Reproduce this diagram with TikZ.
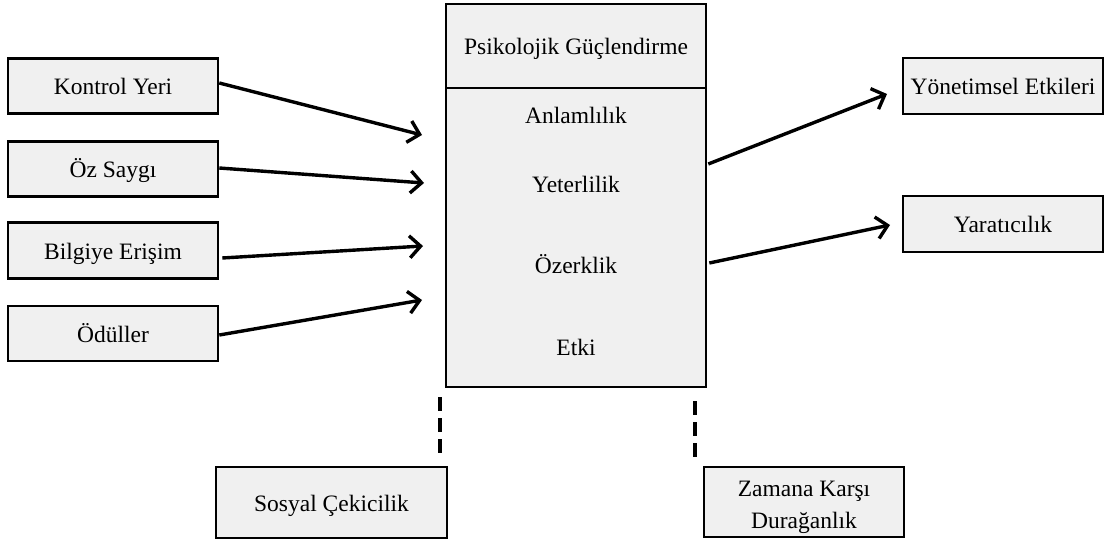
\documentclass[tikz,border=0pt]{standalone}
\usepackage{fontspec}
\setmainfont{Liberation Serif}
\usetikzlibrary{arrows.meta,calc}
\definecolor{boxfill}{RGB}{240,240,240}
\begin{document}
\begin{tikzpicture}[x=1pt,y=-1pt,
  txt/.style={font=\fontsize{23.5}{32}\selectfont},
  box/.style={draw=black, line width=2.6pt, fill=boxfill, inner sep=0pt, txt,
              text height=20pt, text depth=3pt},
  link/.style={line width=3.4pt, -{Straight Barb[length=11pt,width=22pt,line width=3.4pt]}},
  tie/.style={line width=4.5pt, dash pattern=on 14pt off 7pt}
]
\useasboundingbox (0,0) rectangle (1109,543);

% antecedents
\node[box, minimum width=210, minimum height=55] (ky) at (113,86)    {Kontrol Yeri};
\node[box, minimum width=210, minimum height=55] (oz) at (113,169)   {Öz Saygı};
\node[box, minimum width=210, minimum height=56] (be) at (113,250.5) {Bilgiye Erişim};
\node[box, minimum width=210, minimum height=55] (od) at (113,333.5) {Ödüller};

% psychological empowerment block
\node[box, minimum width=260, minimum height=299] (pgbody) at (576,237.5) {};
\node[box, minimum width=260, minimum height=84]  (pgtop)  at (576,46) {Psikolojik Güçlendirme};
\node[txt, anchor=base] (d1) at (576,123) {Anlamlılık};
\node[txt, anchor=base] (d2) at (576,192) {Yeterlilik};
\node[txt, anchor=base] (d3) at (576,273) {Özerklik};
\node[txt, anchor=base] (d4) at (576,355) {Etki};

% outcomes
\node[box, minimum width=200, minimum height=56] (ye) at (1003,86)  {Yönetimsel Etkileri};
\node[box, minimum width=200, minimum height=56] (ya) at (1003,224) {Yaratıcılık};

% moderators
\node[box, minimum width=231, minimum height=71] (sc) at (331.5,502.5) {Sosyal Çekicilik};
\node[box, minimum width=200, minimum height=70] (zk) at (804,502) {};
\node[txt, align=center, inner sep=0pt] (zkt) at ($(zk.center)+(0,5)$) {Zamana Karşı\\Durağanlık};

% arrow tips in front of the block
\coordinate (t1) at (422,135);
\coordinate (t2) at (424,183);
\coordinate (t3) at (423,246);
\coordinate (t4) at (422,300);
\coordinate (t5) at (887,94);
\coordinate (t6) at (890,225);

\draw[link] ($(ky.east)+(0,-3)$)        -- (t1);
\draw[link] ($(oz.east)+(0,-1)$)        -- (t2);
\draw[link] ($(be.east)+(3,7.5)$)       -- (t3);
\draw[link] ($(od.east)+(0,1.5)$)       -- (t4);
\draw[link] ($(pgbody.east)+(1,-73.5)$) -- (t5);
\draw[link] ($(pgbody.east)+(2,25.5)$)  -- (t6);

% dashed ties to the moderators
\coordinate (m1a) at (440,397);
\coordinate (m1b) at (440,455);
\coordinate (m2a) at (695,401);
\coordinate (m2b) at (695,459);
\draw[tie] (m1a) -- (m1b);
\draw[tie] (m2a) -- (m2b);
\end{tikzpicture}
\end{document}
